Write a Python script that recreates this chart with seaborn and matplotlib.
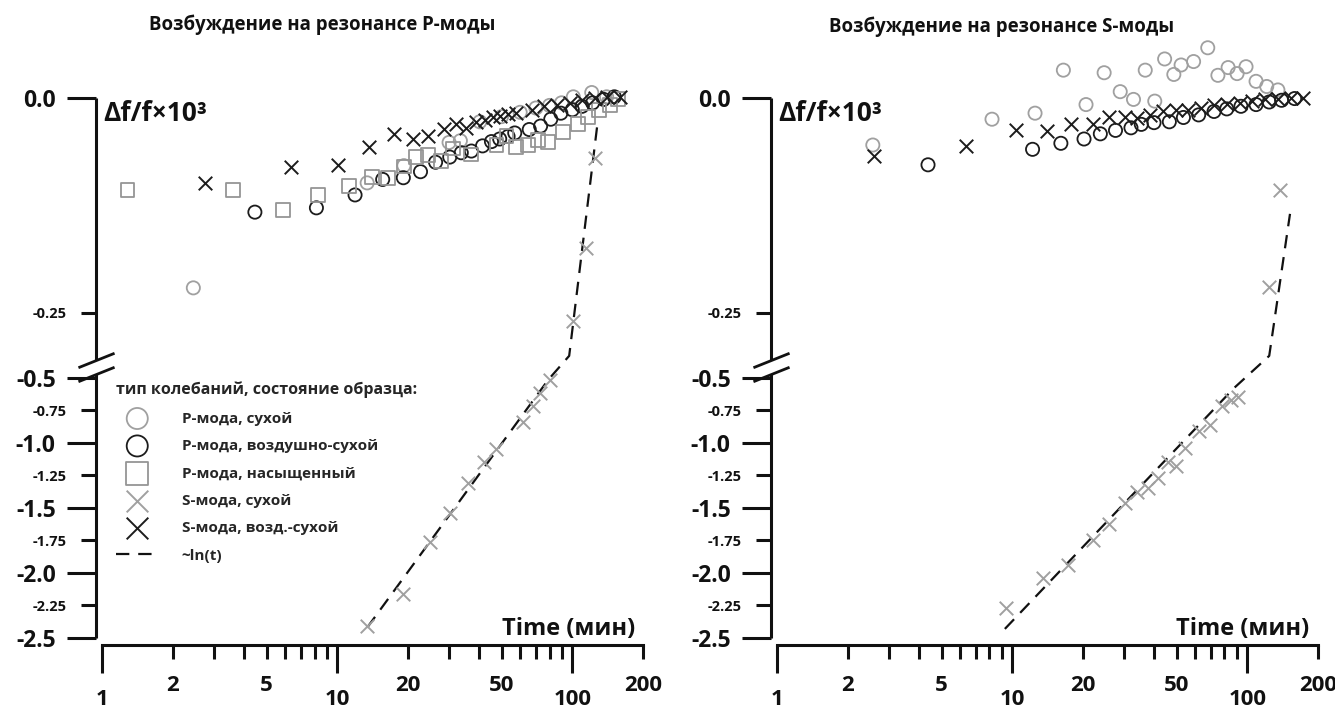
import numpy as np
import seaborn as sns
import matplotlib.pyplot as plt
from matplotlib.path import Path

sns.set_theme(style="ticks")
plt.rcParams['font.family'] = ['Open Sans', 'DejaVu Sans']
plt.rcParams['font.weight'] = 'bold'

# ---------------- data: left panel (excitation at P-mode resonance) ----------------
L_p_dry_t = [2.44, 13.4, 19.2, 29.9, 33.4, 40.4, 50, 60, 70, 80, 90, 101, 121, 140]
L_p_dry_y = [-0.221, -0.099, -0.079, -0.052, -0.050, -0.028, -0.022, -0.017, -0.012,
             -0.009, -0.006, 0.001, 0.006, 0.001]

L_p_air_t = [4.46, 8.15, 11.9, 15.6, 19.1, 22.6, 26.2, 30.1, 33.7, 37.2, 41.5, 45.3, 49.1,
             53.3, 56.9, 65.6, 73.3, 81, 89.4, 100, 110, 122, 136, 151]
L_p_air_y = [-0.133, -0.128, -0.113, -0.095, -0.093, -0.086, -0.075, -0.069, -0.064, -0.062,
             -0.056, -0.051, -0.048, -0.045, -0.041, -0.037, -0.033, -0.025, -0.018, -0.014,
             -0.010, -0.006, -0.002, 0.001]

L_p_sat_t = [1.28, 3.6, 5.85, 8.3, 11.2, 14.0, 16.4, 19.2, 21.7, 24.3, 27.7, 31.1, 37.2,
             47.6, 52.5, 57.8, 64.7, 71.5, 79, 91.6, 106, 117, 130, 145, 156]
L_p_sat_y = [-0.107, -0.107, -0.130, -0.113, -0.103, -0.092, -0.093, -0.080, -0.069, -0.067,
             -0.074, -0.059, -0.066, -0.055, -0.045, -0.057, -0.055, -0.049, -0.051, -0.040,
             -0.031, -0.022, -0.014, -0.008, -0.002]

L_s_dry_t = [13.4, 19.1, 24.7, 30.1, 36.0, 42.3, 47.2, 61.8, 67.8, 73.1, 80.3, 101, 114.6, 125]
L_s_dry_y = [-2.41, -2.16, -1.76, -1.54, -1.31, -1.15, -1.05, -0.84, -0.72, -0.615, -0.515,
             -0.259, -0.175, -0.070]

L_s_air_t = [2.73, 6.38, 10.1, 13.7, 17.4, 21.0, 24.3, 28.4, 32.1, 35.4, 39.1, 42.4, 46.0,
             49.1, 53.3, 57.8, 67.2, 76, 86, 97.5, 110, 125, 141, 160]
L_s_air_y = [-0.099, -0.081, -0.078, -0.057, -0.042, -0.048, -0.045, -0.036, -0.031, -0.035,
             -0.028, -0.026, -0.022, -0.021, -0.019, -0.018, -0.014, -0.010, -0.008, -0.006,
             -0.003, 0.000, 0.001, 0.001]

L_fit_t = [13.4, 79, 97, 128]
L_fit_y = [-2.42, -0.515, -0.30, -0.03]

# ---------------- data: right panel (excitation at S-mode resonance) ----------------
R_p_dry_t = [2.55, 8.2, 12.5, 16.5, 20.6, 24.6, 28.8, 32.8, 36.8, 40.4, 44.5, 48.7, 52.3,
             59.1, 67.9, 75, 82.9, 90.5, 98.8, 109, 121, 135]
R_p_dry_y = [-0.055, -0.025, -0.018, 0.032, -0.008, 0.029, 0.007, -0.002, 0.032, -0.004,
             0.045, 0.027, 0.038, 0.042, 0.058, 0.026, 0.035, 0.028, 0.036, 0.019, 0.013, 0.009]

R_p_air_t = [4.38, 12.2, 16.1, 20.2, 23.7, 27.5, 32, 35.4, 40.1, 46.6, 53.5, 62.1, 72.2,
             81.8, 94, 109, 124, 140, 159]
R_p_air_y = [-0.078, -0.060, -0.053, -0.048, -0.042, -0.038, -0.035, -0.031, -0.029, -0.028,
             -0.023, -0.020, -0.016, -0.013, -0.010, -0.008, -0.005, -0.003, -0.001]

R_s_dry_t = [9.4, 13.5, 17.3, 22, 25.9, 30.1, 34.1, 37.7, 41.7, 46, 49.6, 54.2, 62.1, 69.5,
             77.9, 85, 91.6, 124, 138]
R_s_dry_y = [-2.27, -2.04, -1.94, -1.75, -1.62, -1.46, -1.38, -1.35, -1.27, -1.15, -1.18,
             -1.04, -0.91, -0.86, -0.72, -0.67, -0.646, -0.220, -0.107]

R_s_air_t = [2.59, 6.34, 10.4, 14.0, 17.8, 22, 25.9, 30.1, 34.1, 38.6, 43.8, 49.6, 56.2,
             63.7, 72.2, 81.8, 92.7, 105, 119, 135, 153, 173]
R_s_air_y = [-0.068, -0.056, -0.038, -0.039, -0.031, -0.030, -0.023, -0.022, -0.024, -0.020,
             -0.016, -0.014, -0.014, -0.012, -0.009, -0.007, -0.006, -0.004, -0.002, -0.001,
             0.000, 0.000]

R_fit_t = [9.3, 88, 124, 152]
R_fit_y = [-2.43, -0.577, -0.30, -0.135]

# ---------------- labels / ticks ----------------
titles = ["Возбуждение на резонансе P-моды", "Возбуждение на резонансе S-моды"]
labels = {"p_dry": "P-мода, сухой", "p_air": "P-мода, воздушно-сухой",
          "p_sat": "P-мода, насыщенный", "s_dry": "S-мода, сухой",
          "s_air": "S-мода, возд.-сухой", "fit": "~ln(t)"}
legend_title = "тип колебаний, состояние образца:"
y_major = [0.0, -0.5, -1.0, -1.5, -2.0, -2.5]
y_major_lbl = ["0.0", "-0.5", "-1.0", "-1.5", "-2.0", "-2.5"]
y_minor = [-0.25, -0.75, -1.25, -1.75, -2.25]
y_minor_lbl = ["-0.25", "-0.75", "-1.25", "-1.75", "-2.25"]
x_major = [1, 10, 100]
x_minor = [2, 3, 4, 5, 6, 7, 8, 9, 20, 30, 40, 50, 60, 70, 80, 90, 200]
x_minor_lbl = ["2", "", "", "5", "", "", "", "", "20", "", "", "50", "", "", "", "", "200"]

GREY = "#a0a0a0"
BLACK = "#1c1c1c"
styles = {"p_dry": ("o", GREY), "p_air": ("o", BLACK), "p_sat": ("s", "#959595"),
          "s_dry": ("x", GREY), "s_air": ("x", BLACK)}

# broken y axis: upper part (0 .. -0.31) stretched, lower part (-0.5 .. -2.5) normal
Y_IN = [-3.0, -0.5, -0.31, 0.2]
Y_OUT = [-3.0, -0.5, -0.397, 2.977]


def fwd(v):
    return np.interp(v, Y_IN, Y_OUT)


def inv(v):
    return np.interp(v, Y_OUT, Y_IN)


fig = plt.figure(figsize=(13.35, 7.11), dpi=100)
axL = fig.add_axes([0.0719, 0.0935, 0.4135, 0.8502])
axR = fig.add_axes([0.5775, 0.0935, 0.4135, 0.8502])

slash = Path([(-1, -0.4), (1, 0.4)], [Path.MOVETO, Path.LINETO])


def draw_panel(ax, series, fit_t, fit_y):
    ax.set_xscale("log")
    ax.set_yscale("function", functions=(fwd, inv))
    ax.set_xlim(0.94, 210)
    ax.set_ylim(-2.55, 0.067)

    for key, t, y in series:
        m, c = styles[key]
        if m == "x":
            sns.scatterplot(x=t, y=y, ax=ax, marker="x", color=c, s=95, linewidth=1.4,
                            label=labels[key], clip_on=False, zorder=3)
        else:
            sns.scatterplot(x=t, y=y, ax=ax, marker=m, facecolor="none", edgecolor=c,
                            s=90 if m == "o" else 100, linewidth=1.3,
                            label=labels[key], clip_on=False, zorder=3)
    sns.lineplot(x=fit_t, y=fit_y, ax=ax, color="#111111", linewidth=1.6,
                 linestyle=(0, (6, 4)), sort=False, estimator=None, label=labels["fit"],
                 zorder=2)

    # axes decoration
    for s in ["top", "right", "left"]:
        ax.spines[s].set_visible(False)
    ax.spines["bottom"].set_bounds(1, 200)
    ax.spines["bottom"].set_linewidth(2.2)
    ax.spines["bottom"].set_color("#111111")
    ytr = ax.get_yaxis_transform()
    ax.plot([0, 0], [-2.5, -0.44], transform=ytr, color="#111111", lw=2.2,
            clip_on=False, solid_capstyle="butt")
    ax.plot([0, 0], [-0.305, 0.0], transform=ytr, color="#111111", lw=2.2,
            clip_on=False, solid_capstyle="butt")
    ax.plot([0, 0], [-0.305, -0.44], transform=ytr, ls="none", marker=slash, ms=26,
            mew=2.0, color="#111111", clip_on=False)

    ax.set_yticks(y_major, y_major_lbl)
    ax.set_yticks(y_minor, y_minor_lbl, minor=True)
    ax.set_xticks(x_major, [str(v) for v in x_major])
    ax.set_xticks(x_minor, x_minor_lbl, minor=True)
    ax.tick_params(axis="y", which="major", length=21, width=2.2, labelsize=16.5, pad=8,
                   colors="#111111")
    ax.tick_params(axis="y", which="minor", length=11, width=2.2, labelsize=10.5, pad=10,
                   colors="#111111")
    ax.tick_params(axis="x", which="major", length=20, width=2.2, labelsize=16, pad=12,
                   colors="#111111")
    ax.tick_params(axis="x", which="minor", length=10, width=2.2, labelsize=16, pad=12,
                   colors="#111111")
    ax.set_xlabel("")
    ax.set_ylabel("")

    ax.text(0.013, 0.878, "Δf/f×10³", transform=ax.transAxes, fontsize=19,
            fontweight="bold", ha="left", va="center", color="#111111")
    ax.text(0.976, 0.0157, "Time (мин)", transform=ax.transAxes, fontsize=17,
            fontweight="bold", ha="right", va="baseline", color="#111111")


draw_panel(axL, [("p_dry", L_p_dry_t, L_p_dry_y), ("p_air", L_p_air_t, L_p_air_y),
                 ("p_sat", L_p_sat_t, L_p_sat_y), ("s_dry", L_s_dry_t, L_s_dry_y),
                 ("s_air", L_s_air_t, L_s_air_y)], L_fit_t, L_fit_y)
draw_panel(axR, [("p_dry", R_p_dry_t, R_p_dry_y), ("p_air", R_p_air_t, R_p_air_y),
                 ("s_dry", R_s_dry_t, R_s_dry_y), ("s_air", R_s_air_t, R_s_air_y)],
           R_fit_t, R_fit_y)

if axR.get_legend():
    axR.get_legend().remove()
leg = axL.legend(title=legend_title, loc="upper left", bbox_to_anchor=(0.036, 0.435),
                 frameon=False, borderpad=0, borderaxespad=0,
                 prop={"weight": "bold", "size": 11},
                 title_fontproperties={"weight": "bold", "size": 11.5},
                 handlelength=2.8, handletextpad=1.5, labelspacing=0.88,
                 alignment="left", markerscale=1.6)

fig.text(0.241, 0.965, titles[0], ha="center", va="center", fontsize=13.4,
         fontweight="bold", color="#111111")
fig.text(0.75, 0.962, titles[1], ha="center", va="center", fontsize=13.4,
         fontweight="bold", color="#111111")

fig.savefig("out.png", dpi=100)
